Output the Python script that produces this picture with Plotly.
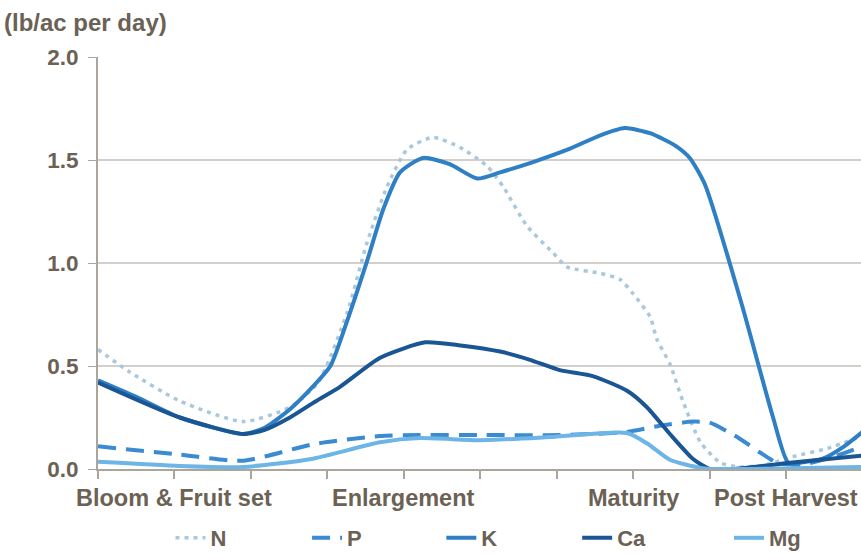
import plotly.graph_objects as go

# x axis: season time in tick-interval units (tick marks at integers)
stage_labels = ["Bloom & Fruit set", "Enlargement", "Maturity", "Post Harvest"]
stage_pos = [1, 4, 7, 9]
tick_pos = [0, 1, 2, 3, 4, 5, 6, 7, 8, 9]
y_ticks = [0, 0.5, 1.0, 1.5, 2.0]

n_x = [0, 0.42, 1.07, 1.90, 2.51, 2.88, 3.26, 3.52, 3.78, 4.04, 4.38, 4.74, 5.09, 5.30, 5.61,
       5.95, 6.14, 6.57, 6.83, 7.00, 7.22, 7.31, 7.48, 7.65, 7.88, 8.14, 8.40, 8.73, 9.09, 9.54, 10.0]
n_y = [0.58, 0.47, 0.33, 0.23, 0.30, 0.42, 0.76, 1.10, 1.37, 1.55, 1.61, 1.56, 1.47, 1.37, 1.18,
       1.05, 0.98, 0.95, 0.92, 0.85, 0.74, 0.63, 0.51, 0.33, 0.13, 0.03, 0.01, 0.02, 0.06, 0.10, 0.16]

p_x = [0, 1.07, 1.90, 2.81, 3.69, 4.21, 5.00, 6.04, 6.92, 7.35, 7.78, 8.00, 8.36, 8.66, 8.88, 9.18, 9.54, 10.0]
p_y = [0.11, 0.07, 0.04, 0.12, 0.16, 0.165, 0.165, 0.165, 0.18, 0.21, 0.23, 0.225, 0.155, 0.08, 0.03, 0.02, 0.05, 0.11]

k_x = [0, 0.50, 1.07, 1.90, 2.18, 2.51, 2.81, 3.04, 3.26, 3.52, 3.73, 3.95, 4.25, 4.60, 4.96, 5.26,
       5.69, 6.14, 6.57, 6.89, 7.22, 7.55, 7.74, 7.94, 8.42, 8.83, 9.03, 9.26, 9.48, 9.76, 10.0]
k_y = [0.43, 0.35, 0.25, 0.17, 0.20, 0.29, 0.40, 0.50, 0.72, 1.01, 1.26, 1.44, 1.51, 1.48, 1.41, 1.44,
       1.49, 1.55, 1.62, 1.655, 1.63, 1.57, 1.51, 1.38, 0.80, 0.25, 0.03, 0.035, 0.05, 0.11, 0.18]

ca_x = [0, 1.07, 1.90, 2.18, 2.51, 2.81, 3.17, 3.69, 4.28, 4.74, 5.26, 5.65, 6.04, 6.48, 6.92,
        7.18, 7.48, 7.78, 8.00, 8.33, 9.05, 10.0]
ca_y = [0.42, 0.25, 0.17, 0.19, 0.25, 0.32, 0.40, 0.54, 0.615, 0.60, 0.57, 0.53, 0.48, 0.45, 0.38,
        0.30, 0.17, 0.05, 0.0, 0.0, 0.03, 0.065]

mg_x = [0, 1.07, 1.90, 2.81, 3.69, 4.21, 5.00, 5.91, 6.92, 7.18, 7.48, 7.88, 8.00, 10.0]
mg_y = [0.035, 0.015, 0.01, 0.05, 0.13, 0.15, 0.14, 0.155, 0.175, 0.125, 0.045, 0.005, 0.0, 0.01]

series = [
    ("N", n_x, n_y, "#a9c8dc", 3.5, "4px,5px"),
    ("P", p_x, p_y, "#3a8bd2", 4, "18px,10px"),
    ("K", k_x, k_y, "#2f7fc5", 4, "solid"),
    ("Ca", ca_x, ca_y, "#1b5694", 4, "solid"),
    ("Mg", mg_x, mg_y, "#6cb5e6", 4, "solid"),
]
legend_names = ["legend", "legend2", "legend3", "legend4", "legend5"]
legend_left = [0.095, 0.274, 0.450, 0.628, 0.827]

text_color = "#6b6154"
font_family = "Liberation Sans, Arial, sans-serif"
axis_color = "#aca59b"

fig = go.Figure()
for (name, xs, ys, color, width, dash), lg in zip(series, legend_names):
    fig.add_trace(go.Scatter(
        x=xs, y=ys, name=name, mode="lines", legend=lg,
        line=dict(color=color, width=width, dash=dash, shape="spline", smoothing=0.6),
    ))

legend_font = dict(family=font_family, size=22, color=text_color, weight="bold")
layout_legends = {}
for lg, lx in zip(legend_names, legend_left):
    layout_legends[lg] = dict(orientation="h", x=lx, xanchor="left",
                              y=16 / 554, yref="container", yanchor="middle",
                              font=legend_font, bgcolor="rgba(0,0,0,0)")

fig.update_layout(
    width=861, height=554,
    margin=dict(l=98, r=0, t=57, b=85, autoexpand=False),
    plot_bgcolor="white", paper_bgcolor="white",
    font=dict(family=font_family, size=20, color=text_color, weight="bold"),
    showlegend=True,
    xaxis=dict(range=[0, 9.98], tickvals=tick_pos, ticktext=[""] * len(tick_pos),
               ticks="outside", ticklen=8, tickcolor=axis_color, tickwidth=1.5,
               showline=True, linecolor=axis_color, linewidth=2,
               showgrid=False, zeroline=False, fixedrange=True),
    yaxis=dict(range=[0, 2.0], tickvals=y_ticks, tickformat=".1f",
               ticks="outside", ticklen=8, tickcolor=axis_color, ticklabelstandoff=5,
               showline=True, linecolor=axis_color, linewidth=2,
               showgrid=True, gridcolor="#d3cfca", gridwidth=1.5, zeroline=False,
               tickfont=dict(family=font_family, size=22.5, color=text_color, weight="bold")),
    **layout_legends,
)

for lab, pos in zip(stage_labels, stage_pos):
    fig.add_annotation(x=pos, xref="x", y=0, yref="paper", yshift=-29, text=lab,
                       showarrow=False, xanchor="center", yanchor="middle",
                       font=dict(family=font_family, size=23.5, color=text_color, weight="bold"))

fig.add_annotation(x=0, xref="paper", y=1, yref="paper",
                   text="(lb/ac per day)", showarrow=False,
                   xanchor="left", yanchor="middle", xshift=-96, yshift=35,
                   font=dict(family=font_family, size=24, color=text_color, weight="bold"))

fig.write_html("out.html", config={"displayModeBar": False},
               post_script="document.body.style.margin='0';")
